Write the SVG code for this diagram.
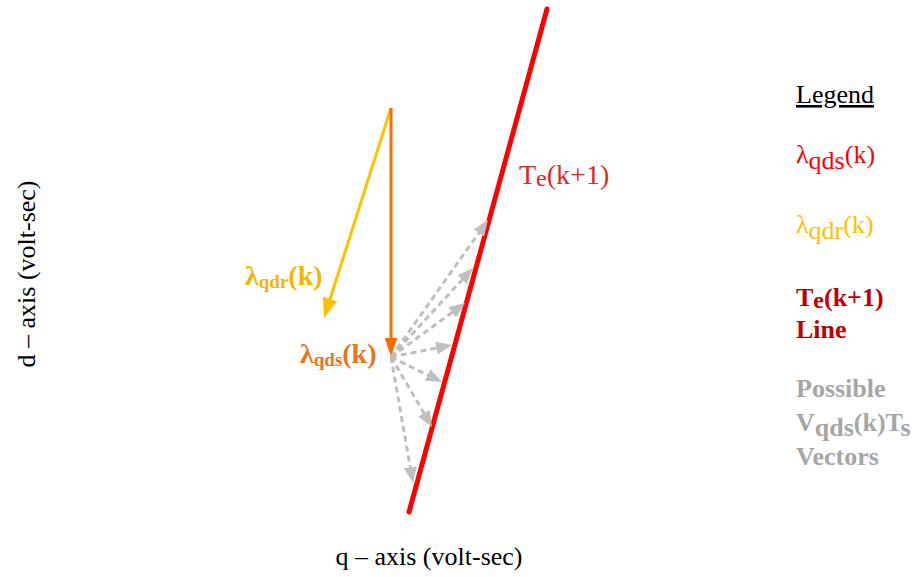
<svg xmlns="http://www.w3.org/2000/svg" width="919" height="577" viewBox="0 0 919 577">
  <style>
    text { font-family: "Liberation Serif", "Times New Roman", serif; }
    .axis { font-size: 26px; fill: #000; }
    .lg { font-size: 26px; }
    .b { font-weight: bold; }
    .gray-vec { stroke: #bfbfbf; stroke-width: 3; stroke-dasharray: 6 4; fill: none; }
  </style>
  <defs>
    <marker id="ahGray" markerUnits="userSpaceOnUse" markerWidth="16" markerHeight="13" refX="10" refY="6.5" orient="auto">
      <path d="M0,0 L16,6.5 L0,13 z" fill="#bfbfbf"/>
    </marker>
    <marker id="ahYellow" markerUnits="userSpaceOnUse" markerWidth="20" markerHeight="15" refX="10" refY="7.5" orient="auto">
      <path d="M0,0 L20,7.5 L0,15 z" fill="#ffc000"/>
    </marker>
    <marker id="ahOrange" markerUnits="userSpaceOnUse" markerWidth="19" markerHeight="13" refX="9.5" refY="6.5" orient="auto">
      <path d="M0,0 L19,6.5 L0,13 z" fill="#ff6a00"/>
    </marker>
  </defs>

  <g id="te-line">
    <line x1="409" y1="512" x2="547" y2="9" stroke="#ff0000" stroke-width="5" stroke-linecap="round"/>
    <text x="519" y="184" font-size="28" fill="#e32626">T<tspan font-size="24" dy="2">e</tspan><tspan dy="-2">(k+1)</tspan></text>
  </g>

  <g id="connectors">
    <line x1="391" y1="108" x2="327" y2="308.5" stroke="#ffc000" stroke-width="3" marker-end="url(#ahYellow)"/>
    <line x1="391" y1="108" x2="391" y2="347" stroke="#ff6a00" stroke-width="3" marker-end="url(#ahOrange)"/>
    <line class="gray-vec" x1="391" y1="357" x2="484.5" y2="224.9" marker-end="url(#ahGray)"/>
    <line class="gray-vec" x1="391" y1="357" x2="468.9" y2="272.4" marker-end="url(#ahGray)"/>
    <line class="gray-vec" x1="391" y1="357" x2="460.2" y2="306.5" marker-end="url(#ahGray)"/>
    <line class="gray-vec" x1="391" y1="357" x2="446.1" y2="346.2" marker-end="url(#ahGray)"/>
    <line class="gray-vec" x1="391" y1="357" x2="436.6" y2="379.4" marker-end="url(#ahGray)"/>
    <line class="gray-vec" x1="391" y1="357" x2="429.0" y2="421.8" marker-end="url(#ahGray)"/>
    <line class="gray-vec" x1="391" y1="357" x2="412.0" y2="477.1" marker-end="url(#ahGray)"/>
  </g>

  <g id="lambda-qdr-label">
    <text x="245" y="285" class="b" font-size="28" fill="#f5b400">λ<tspan font-size="19" dy="3">qdr</tspan><tspan dy="-3">(k)</tspan></text>
  </g>
  <g id="lambda-qds-label">
    <text x="300" y="363" class="b" font-size="28" fill="#ea7420">λ<tspan font-size="19" dy="3">qds</tspan><tspan dy="-3">(k)</tspan></text>
  </g>

  <g id="axes">
    <text class="axis" x="429" y="565" text-anchor="middle">q – axis (volt-sec)</text>
    <text class="axis" transform="translate(35,274) rotate(-90)" text-anchor="middle">d – axis (volt-sec)</text>
  </g>

  <g id="legend">
    <text class="lg" x="796" y="103" fill="#000" text-decoration="underline">Legend</text>
    <text class="lg" x="796" y="163" fill="#ff0000">λ<tspan dy="6">qds</tspan><tspan dy="-6">(k)</tspan></text>
    <text class="lg" x="796" y="233" fill="#ffc000">λ<tspan dy="6">qdr</tspan><tspan dy="-6">(k)</tspan></text>
    <text class="lg b" x="796" y="306" fill="#c00000">T<tspan font-size="24" dy="2">e</tspan><tspan dy="-2">(k+1)</tspan></text>
    <text class="lg b" x="796" y="338" fill="#c00000">Line</text>
    <text class="lg b" x="796" y="397" fill="#a6a6a6">Possible</text>
    <text class="lg b" x="796" y="431" fill="#a6a6a6">V<tspan dy="5">qds</tspan><tspan dy="-5">(k)</tspan>T<tspan dy="5">s</tspan></text>
    <text class="lg b" x="796" y="465" fill="#a6a6a6">Vectors</text>
  </g>
</svg>
